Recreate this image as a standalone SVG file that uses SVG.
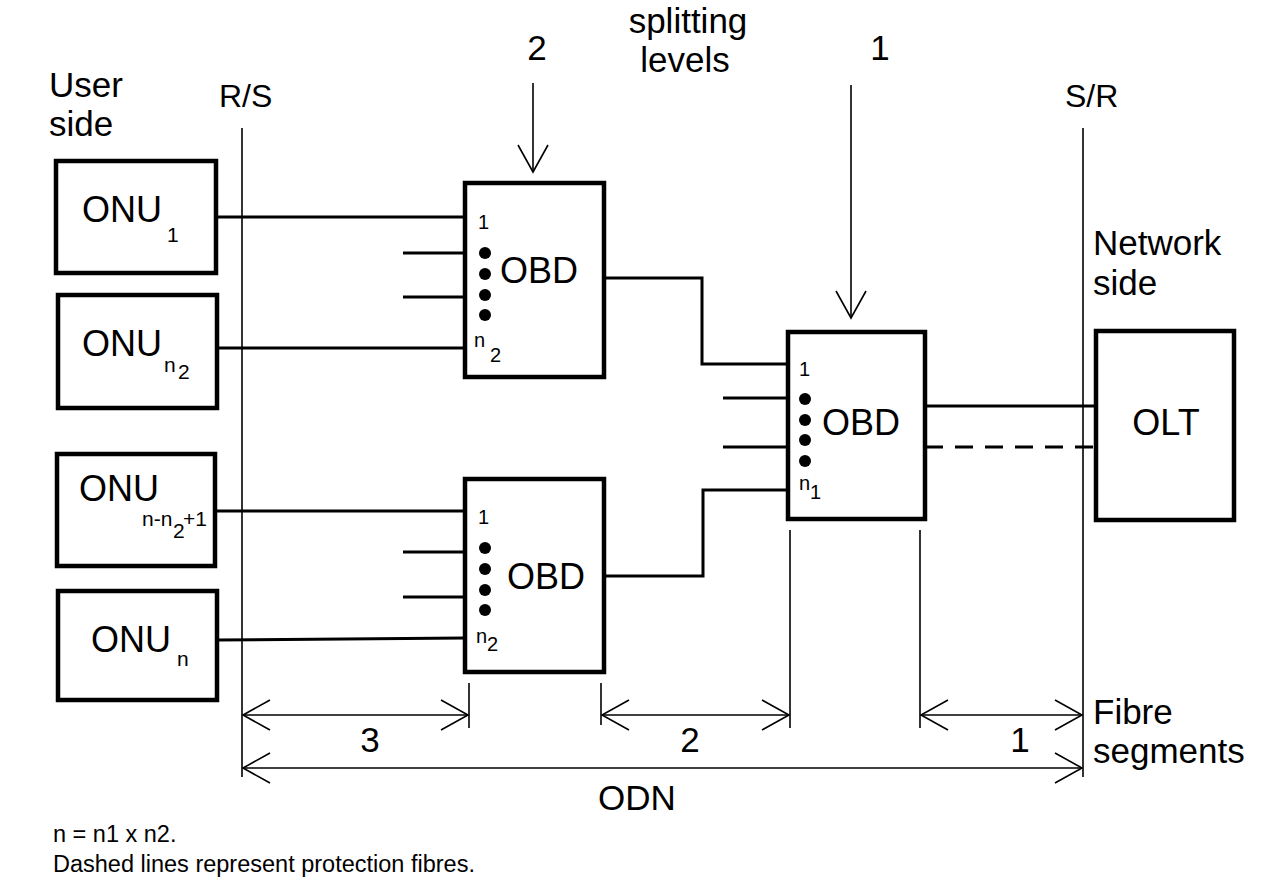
<svg xmlns="http://www.w3.org/2000/svg" width="1272" height="883" viewBox="0 0 1272 883">
<defs>
<style>
text{font-family:"Liberation Sans",Arial,sans-serif;fill:#000}
.big{font-size:36px}
.lbl{font-size:35px}
.rs{font-size:32px}
.sub{font-size:21px}
.port{font-size:20px}
.note{font-size:23.5px}
.box{fill:#fff;stroke:#000;stroke-width:4.5}
.wire{fill:none;stroke:#000;stroke-width:3}
.thin{fill:none;stroke:#000;stroke-width:1.6}
.dash{fill:none;stroke:#000;stroke-width:3;stroke-dasharray:18 12}
.dot{fill:#000}
</style>
<marker id="v" viewBox="-28 -16 30 32" refX="0" refY="0" markerWidth="30" markerHeight="32" markerUnits="userSpaceOnUse" orient="auto-start-reverse">
<path d="M-27,-15 L0,0 L-27,15" fill="none" stroke="#000" stroke-width="1.6"/>
</marker>
</defs>
<rect width="1272" height="883" fill="#fff"/>

<g id="labels">
<text class="lbl" x="49" y="97">User</text>
<text class="lbl" x="49" y="136">side</text>
<text class="rs" x="219" y="107">R/S</text>
<text class="rs" x="1065" y="107">S/R</text>
<text class="lbl" x="1093" y="255">Network</text>
<text class="lbl" x="1093" y="295">side</text>
<text class="lbl" x="1093" y="724">Fibre</text>
<text class="lbl" x="1093" y="763">segments</text>
<text class="lbl" x="688" y="33" text-anchor="middle">splitting</text>
<text class="lbl" x="685" y="72" text-anchor="middle">levels</text>
<text class="lbl" x="537" y="60" text-anchor="middle">2</text>
<text class="lbl" x="880" y="60" text-anchor="middle">1</text>
<text class="lbl" x="370" y="752" text-anchor="middle">3</text>
<text class="lbl" x="690" y="752" text-anchor="middle">2</text>
<text class="lbl" x="1020" y="752" text-anchor="middle">1</text>
<text class="lbl" x="637" y="810" text-anchor="middle">ODN</text>
<text class="note" x="53" y="842">n = n1 x n2.</text>
<text class="note" x="53" y="872">Dashed lines represent protection fibres.</text>
</g>

<g id="reference-lines">
<line class="thin" x1="242" y1="128" x2="242" y2="777"/>
<line class="thin" x1="1083" y1="128" x2="1083" y2="777"/>
<line class="thin" x1="469" y1="683" x2="469" y2="728"/>
<line class="thin" x1="601" y1="683" x2="601" y2="725"/>
<line class="thin" x1="790" y1="530" x2="790" y2="728"/>
<line class="thin" x1="920" y1="530" x2="920" y2="728"/>
</g>

<g id="onu1">
<rect class="box" x="56" y="161" width="160" height="112"/>
<text class="big" x="82" y="222">ONU</text>
<text class="sub" x="167" y="242">1</text>
</g>
<g id="onun2">
<rect class="box" x="58" y="295" width="159" height="113"/>
<text class="big" x="82" y="356">ONU</text>
<text class="sub" x="164" y="372">n</text>
<text class="sub" x="178" y="379">2</text>
</g>
<g id="onun-n2-1">
<rect class="box" x="57" y="454" width="158" height="112"/>
<text class="big" x="79" y="501">ONU</text>
<text class="sub" x="142" y="526">n-n</text>
<text class="sub" x="173" y="538">2</text>
<text class="sub" x="183" y="526">+1</text>
</g>
<g id="onun">
<rect class="box" x="58" y="591" width="159" height="109"/>
<text class="big" x="91" y="652">ONU</text>
<text class="sub" x="177" y="666">n</text>
</g>

<g id="obd-top">
<rect class="box" x="465" y="183" width="139" height="194"/>
<text class="big" x="500" y="283">OBD</text>
<text class="port" x="478" y="229">1</text>
<text class="port" x="474" y="347">n</text>
<text class="port" x="490" y="362">2</text>
<circle class="dot" cx="485" cy="253" r="6"/>
<circle class="dot" cx="485" cy="274" r="6"/>
<circle class="dot" cx="485" cy="295" r="6"/>
<circle class="dot" cx="485" cy="315" r="6"/>
</g>
<g id="obd-bottom">
<rect class="box" x="465" y="479" width="139" height="193"/>
<text class="big" x="507" y="589">OBD</text>
<text class="port" x="478" y="524">1</text>
<text class="port" x="476" y="643">n</text>
<text class="port" x="487" y="651">2</text>
<circle class="dot" cx="485" cy="548" r="6"/>
<circle class="dot" cx="485" cy="569" r="6"/>
<circle class="dot" cx="485" cy="590" r="6"/>
<circle class="dot" cx="485" cy="610" r="6"/>
</g>
<g id="obd-right">
<rect class="box" x="788" y="332" width="137" height="187"/>
<text class="big" x="822" y="435">OBD</text>
<text class="port" x="799" y="376">1</text>
<text class="port" x="799" y="490">n</text>
<text class="port" x="810" y="499">1</text>
<circle class="dot" cx="805" cy="399" r="6"/>
<circle class="dot" cx="805" cy="420" r="6"/>
<circle class="dot" cx="805" cy="440" r="6"/>
<circle class="dot" cx="805" cy="461" r="6"/>
</g>
<g id="olt">
<rect class="box" x="1096" y="331" width="138" height="189"/>
<text class="big" x="1166" y="435" text-anchor="middle">OLT</text>
</g>

<g id="connectors">
<line class="wire" x1="216" y1="217" x2="465" y2="217"/>
<line class="wire" x1="403" y1="253" x2="465" y2="253"/>
<line class="wire" x1="403" y1="297" x2="465" y2="297"/>
<line class="wire" x1="217" y1="348" x2="465" y2="348"/>
<line class="wire" x1="215" y1="511" x2="465" y2="511"/>
<line class="wire" x1="403" y1="552" x2="465" y2="552"/>
<line class="wire" x1="403" y1="597" x2="465" y2="597"/>
<line class="wire" x1="217" y1="640" x2="465" y2="638"/>
<polyline class="wire" points="604,278 702,278 702,364 788,364"/>
<polyline class="wire" points="604,576 703,576 703,490 788,490"/>
<line class="wire" x1="723" y1="398" x2="788" y2="398"/>
<line class="wire" x1="723" y1="447" x2="788" y2="447"/>
<line class="wire" x1="925" y1="406" x2="1096" y2="406"/>
<line class="dash" x1="925" y1="447" x2="1096" y2="447"/>
<line class="thin" x1="533" y1="83" x2="533" y2="172" marker-end="url(#v)"/>
<line class="thin" x1="851" y1="85" x2="851" y2="318" marker-end="url(#v)"/>
<line class="thin" x1="243" y1="715" x2="468" y2="715" marker-start="url(#v)" marker-end="url(#v)"/>
<line class="thin" x1="602" y1="715" x2="789" y2="715" marker-start="url(#v)" marker-end="url(#v)"/>
<line class="thin" x1="921" y1="715" x2="1082" y2="715" marker-start="url(#v)" marker-end="url(#v)"/>
<line class="thin" x1="243" y1="768" x2="1082" y2="768" marker-start="url(#v)" marker-end="url(#v)"/>
</g>
</svg>
